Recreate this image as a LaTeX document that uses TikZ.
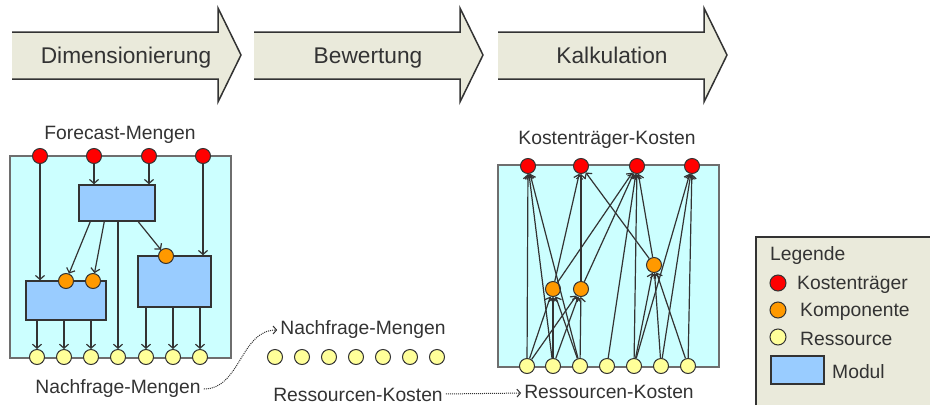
\documentclass[tikz,border=0pt]{standalone}
\usepackage{fontspec}
\setmainfont{Liberation Sans}
\usetikzlibrary{arrows.meta}

\definecolor{phasebg}{HTML}{EAEADB}
\definecolor{panelbg}{HTML}{CCFFFF}
\definecolor{modulbg}{HTML}{99CCFF}
\definecolor{ktred}{HTML}{FF0000}
\definecolor{komporange}{HTML}{FF9900}
\definecolor{ressyellow}{HTML}{FFFF99}
\definecolor{linegray}{HTML}{333333}
\definecolor{panelline}{HTML}{6E6E6E}

\tikzset{
  bigtext/.style={font=\fontsize{22.7}{27}\selectfont, text=linegray, inner sep=0pt},
  labeltext/.style={font=\fontsize{19.3}{23}\selectfont, text=linegray, inner sep=3pt},
  phase/.style={fill=phasebg},
  phaseline/.style={draw=linegray, line width=1.5pt},
  panel/.style={fill=panelbg, draw=panelline, line width=2pt},
  modul/.style={rectangle, fill=modulbg, draw=linegray, line width=1.5pt, inner sep=0pt},
  bead/.style={circle, draw=linegray, line width=1pt, minimum size=15pt, inner sep=0pt},
  ktnode/.style={bead, fill=ktred},
  kompnode/.style={bead, fill=komporange},
  ressnode/.style={bead, fill=ressyellow},
  flow/.style={draw=linegray, line width=1.2pt, -{Straight Barb[length=4pt,width=9pt]}},
  hint/.style={draw=linegray, line width=1pt, densely dotted, -{Straight Barb[length=3.5pt,width=8pt]}}
}

\begin{document}
\begin{tikzpicture}[x=1pt, y=-1pt]
        \useasboundingbox (0,0) rectangle (930,405);

        % Phasen
        \fill[phase] (12,32) -- ++(206,0) -- ++(0,-24) -- ++(23,47) -- ++(-23,47) -- ++(0,-23) -- ++(-206,0) -- cycle;
        \draw[phaseline] (12,32) -- ++(206,0) -- ++(0,-24) -- ++(23,47) -- ++(-23,47) -- ++(0,-23) -- ++(-206,0);
        \node[bigtext, anchor=base] (dim) at (126,63) {Dimensionierung};

        \fill[phase] (254,32) -- ++(206,0) -- ++(0,-24) -- ++(23,47) -- ++(-23,47) -- ++(0,-23) -- ++(-206,0) -- cycle;
        \draw[phaseline] (254,32) -- ++(206,0) -- ++(0,-24) -- ++(23,47) -- ++(-23,47) -- ++(0,-23) -- ++(-206,0);
        \node[bigtext, anchor=base] (bew) at (368,63) {Bewertung};

        \fill[phase] (498,32) -- ++(206,0) -- ++(0,-24) -- ++(23,47) -- ++(-23,47) -- ++(0,-23) -- ++(-206,0) -- cycle;
        \draw[phaseline] (498,32) -- ++(206,0) -- ++(0,-24) -- ++(23,47) -- ++(-23,47) -- ++(0,-23) -- ++(-206,0);
        \node[bigtext, anchor=base] (kalk) at (612,63) {Kalkulation};

        % Dimensionierung
        \draw[panel] (10,156) rectangle (231,358);
        \node[labeltext] (fcm) at (120,135) {Forecast-Mengen};

        \node[modul, minimum width=76pt, minimum height=36pt] (m1) at (117,203) {};
        \node[modul, minimum width=80pt, minimum height=39pt] (m2) at (66,300.5) {};
        \node[modul, minimum width=73pt, minimum height=51pt] (m3) at (174.5,281.5) {};

        \node[ktnode] (fr1) at (40,156) {};
        \node[ktnode] (fr2) at (94,156) {};
        \node[ktnode] (fr3) at (149,156) {};
        \node[ktnode] (fr4) at (203,156) {};

        \node[kompnode] (fo1) at (66,281) {};
        \node[kompnode] (fo2) at (93,281) {};
        \node[kompnode] (fo3) at (166,256) {};

        \node[ressnode] (fy1) at (37,357) {};
        \node[ressnode] (fy2) at (64,357) {};
        \node[ressnode] (fy3) at (91,357) {};
        \node[ressnode] (fy4) at (118,357) {};
        \node[ressnode] (fy5) at (146,357) {};
        \node[ressnode] (fy6) at (173,357) {};
        \node[ressnode] (fy7) at (200,357) {};

        \draw[flow] (fr1) -- (fr1 |- m2.north);
        \draw[flow] (fr2) -- (fr2 |- m1.north);
        \draw[flow] (fr3) -- (fr3 |- m1.north);
        \draw[flow] (fr4) -- (fr4 |- m3.north);
        \draw[flow] ([xshift=12pt]m1.south west) -- (fo1);
        \draw[flow] ([xshift=26pt]m1.south west) -- (fo2);
        \draw[flow] (m1.south -| fy4) -- (fy4);
        \draw[flow] ([xshift=60pt]m1.south west) -- (fo3);
        \draw[flow] (m2.south -| fy1) -- (fy1);
        \draw[flow] (m2.south -| fy2) -- (fy2);
        \draw[flow] (m2.south -| fy3) -- (fy3);
        \draw[flow] (m3.south -| fy5) -- (fy5);
        \draw[flow] (m3.south -| fy6) -- (fy6);
        \draw[flow] (m3.south -| fy7) -- (fy7);

        \node[labeltext] (nfl) at (118,389) {Nachfrage-Mengen};

        % Bewertung
        \node[labeltext] (nfm) at (363,330) {Nachfrage-Mengen};
        \node[ressnode] (my1) at (275,357) {};
        \node[ressnode] (my2) at (302,357) {};
        \node[ressnode] (my3) at (329,357) {};
        \node[ressnode] (my4) at (356,357) {};
        \node[ressnode] (my5) at (383,357) {};
        \node[ressnode] (my6) at (410,357) {};
        \node[ressnode] (my7) at (437,357) {};
        \node[labeltext] (rkm) at (358,395) {Ressourcen-Kosten};

        \draw[hint] (nfl.east) to[out=0, in=180] (nfm.west);

        % Kalkulation
        \draw[panel] (498,165) rectangle (719,367);
        \node[labeltext] (ktk) at (607,140) {Kostenträger-Kosten};

        \node[ktnode] (kr1) at (528,166) {};
        \node[ktnode] (kr2) at (581,166) {};
        \node[ktnode] (kr3) at (637,166) {};
        \node[ktnode] (kr4) at (692,166) {};

        \node[kompnode] (ko1) at (553,289) {};
        \node[kompnode] (ko2) at (581,289) {};
        \node[kompnode] (ko3) at (654,265) {};

        \node[ressnode] (ky1) at (527,366) {};
        \node[ressnode] (ky2) at (553,366) {};
        \node[ressnode] (ky3) at (580,366) {};
        \node[ressnode] (ky4) at (607,366) {};
        \node[ressnode] (ky5) at (634,366) {};
        \node[ressnode] (ky6) at (661,366) {};
        \node[ressnode] (ky7) at (688,366) {};

        \draw[flow] (ky1) -- (kr1);
        \draw[flow] (ky1) -- (ko1);
        \draw[flow] (ky1) -- (ko2);
        \draw[flow] (ky2) -- (kr1);
        \draw[flow] (ky2) -- (ko1);
        \draw[flow] (ky2) -- (ko2);
        \draw[flow] (ky3) -- (kr1);
        \draw[flow] (ky3) -- (ko1);
        \draw[flow] (ky3) -- (ko2);
        \draw[flow] (ko1) -- (kr2);
        \draw[flow] (ko1) -- (kr3);
        \draw[flow] (ko2) -- (kr2);
        \draw[flow] (ko2) -- (kr3);
        \draw[flow] (ky4) -- (kr3);
        \draw[flow] (ky5) -- (kr3);
        \draw[flow] (ky5) -- (ko3);
        \draw[flow] (ky5) -- (kr4);
        \draw[flow] (ky6) -- (ko3);
        \draw[flow] (ky6) -- (kr4);
        \draw[flow] (ky7) -- (ko3);
        \draw[flow] (ky7) -- (kr4);
        \draw[flow] (ko3) -- (kr2);
        \draw[flow] (ko3) -- (kr3);

        \node[labeltext] (rkr) at (609,392) {Ressourcen-Kosten};
        \draw[hint] (rkm) -- (rkr);

        % Legende
        \fill[phase] (756,237) rectangle (930,405);
        \draw[linegray, line width=1.5pt] (756,405) |- (930,237);
        \node[labeltext, anchor=west] (leg) at (767,256) {Legende};
        \node[ktnode, minimum size=16pt] (lkt) at (778,283) {};
        \node[labeltext, anchor=west] (lktt) at (794,285) {Kostenträger};
        \node[kompnode, minimum size=16pt] (lko) at (778,310) {};
        \node[labeltext, anchor=west] (lkot) at (797,312) {Komponente};
        \node[ressnode, minimum size=16pt] (lre) at (778,337) {};
        \node[labeltext, anchor=west] (lret) at (797,339) {Ressource};
        \node[modul, minimum width=53pt, minimum height=28pt] (lmo) at (797.5,370) {};
        \node[labeltext, anchor=west] (lmot) at (829,372) {Modul};

\end{tikzpicture}
\end{document}
